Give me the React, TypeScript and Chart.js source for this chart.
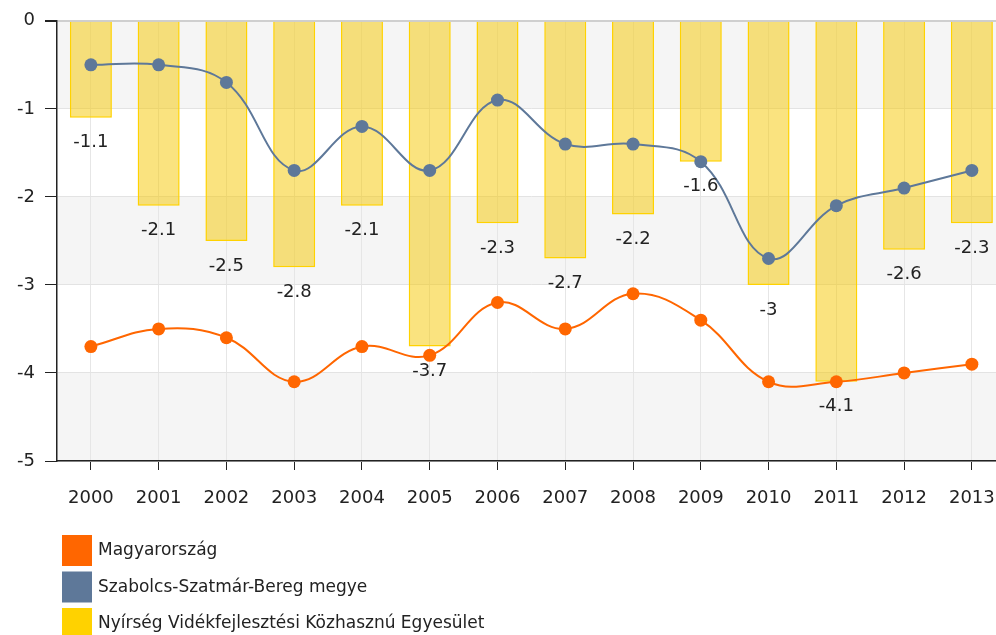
import React, { useEffect, useRef } from "react";
import { Chart, registerables } from "chart.js";

Chart.register(...registerables);

const years = ["2000", "2001", "2002", "2003", "2004", "2005", "2006", "2007", "2008", "2009", "2010", "2011", "2012", "2013"];
const magyarorszag = [-3.7, -3.5, -3.6, -4.1, -3.7, -3.8, -3.2, -3.5, -3.1, -3.4, -4.1, -4.1, -4.0, -3.9];
const szabolcs = [-0.5, -0.5, -0.7, -1.7, -1.2, -1.7, -0.9, -1.4, -1.4, -1.6, -2.7, -2.1, -1.9, -1.7];
const nyirseg = [-1.1, -2.1, -2.5, -2.8, -2.1, -3.7, -2.3, -2.7, -2.2, -1.6, -3, -4.1, -2.6, -2.3];
const seriesNames = ["Magyarország", "Szabolcs-Szatmár-Bereg megye", "Nyírség Vidékfejlesztési Közhasznú Egyesület"];
const seriesColors = ["#ff6600", "#5e7899", "#ffd200"];
const yTicks = [0, -1, -2, -3, -4, -5];

const FONT = "'DejaVu Sans', Verdana, sans-serif";

const bandsPlugin = {
  id: "bands",
  beforeDraw(chart: any) {
    const { ctx, chartArea, scales } = chart;
    const y = scales.y;
    ctx.save();
    for (let i = 0; i < yTicks.length - 1; i++) {
      if (i % 2 === 0) {
        const top = y.getPixelForValue(yTicks[i]);
        const bottom = y.getPixelForValue(yTicks[i + 1]);
        ctx.fillStyle = "#f5f5f5";
        ctx.fillRect(chartArea.left, top, chartArea.right - chartArea.left, bottom - top);
      }
    }
    ctx.restore();
  },
};

const barLabelPlugin = {
  id: "barLabels",
  afterDatasetsDraw(chart: any) {
    const { ctx } = chart;
    const idx = chart.data.datasets.findIndex((d: any) => d.type === "bar");
    if (idx < 0) return;
    const meta = chart.getDatasetMeta(idx);
    const data = chart.data.datasets[idx].data;
    ctx.save();
    ctx.font = `18px ${FONT}`;
    ctx.fillStyle = "#222";
    ctx.textAlign = "center";
    ctx.textBaseline = "middle";
    meta.data.forEach((el: any, i: number) => {
      ctx.fillText(String(data[i]), el.x, el.y + 25);
    });
    ctx.restore();
  },
};

const legendPlugin = {
  id: "customLegend",
  afterDraw(chart: any) {
    const { ctx } = chart;
    ctx.save();
    ctx.font = `17px ${FONT}`;
    ctx.textBaseline = "middle";
    seriesNames.forEach((name, i) => {
      const top = 535 + i * 36.5;
      ctx.fillStyle = seriesColors[i];
      ctx.fillRect(62, top, 30, 31);
      ctx.fillStyle = "#222";
      ctx.fillText(name, 98, top + 16);
    });
    ctx.restore();
  },
};

export default function App() {
  const ref = useRef<HTMLCanvasElement>(null);
  useEffect(() => {
    if (!ref.current) return;
    const chart = new Chart(ref.current, {
      type: "bar",
      data: {
        labels: years,
        datasets: [
          {
            type: "line",
            label: seriesNames[0],
            data: magyarorszag,
            borderColor: seriesColors[0],
            backgroundColor: seriesColors[0],
            borderWidth: 2,
            pointRadius: 6.5,
            pointBorderWidth: 0,
            pointBackgroundColor: seriesColors[0],
            tension: 0.4,
            order: 1,
          } as any,
          {
            type: "line",
            label: seriesNames[1],
            data: szabolcs,
            borderColor: seriesColors[1],
            backgroundColor: seriesColors[1],
            borderWidth: 2,
            pointRadius: 6.5,
            pointBorderWidth: 0,
            pointBackgroundColor: seriesColors[1],
            tension: 0.4,
            order: 2,
          } as any,
          {
            type: "bar",
            label: seriesNames[2],
            data: nyirseg,
            backgroundColor: "rgba(245,200,0,0.5)",
            borderColor: seriesColors[2],
            borderWidth: 1.5,
            barPercentage: 0.62,
            categoryPercentage: 1,
            order: 3,
          } as any,
        ],
      },
      options: {
        animation: false,
        responsive: true,
        maintainAspectRatio: false,
        layout: { padding: { top: 12, bottom: 114, left: 0, right: 0 } },
        plugins: { legend: { display: false }, tooltip: { enabled: false } },
        scales: {
          x: {
            offset: true,
            grid: { offset: false, color: "#e6e6e6", tickColor: "#222", tickLength: 9, drawOnChartArea: true },
            border: { color: "#222", width: 1.5 },
            ticks: { color: "#222", font: { family: FONT, size: 18 }, padding: 18, maxRotation: 0 },
            afterFit: (s: any) => { s.height = 60; },
          },
          y: {
            min: -5,
            max: 0,
            grid: {
              color: (c: any) => (c.tick && c.tick.value === 0 ? "#cfcfcf" : "#e3e3e3"),
              lineWidth: (c: any) => (c.tick && c.tick.value === 0 ? 2 : 1),
              tickColor: "#222",
              tickLength: 12,
            },
            border: { color: "#222", width: 1.5 },
            ticks: { stepSize: 1, color: "#222", font: { family: FONT, size: 18 }, padding: 10 },
            afterFit: (s: any) => { s.width = 57; },
          },
        },
      },
      plugins: [bandsPlugin, barLabelPlugin, legendPlugin],
    });
    return () => chart.destroy();
  }, []);
  return (
    <div style={{ position: "fixed", left: 0, top: 0, width: 996, height: 635, overflow: "hidden", background: "#fff" }}>
      <div style={{ position: "absolute", left: 0, top: 0, width: 1013, height: 635 }}>
        <canvas ref={ref} />
      </div>
    </div>
  );
}
